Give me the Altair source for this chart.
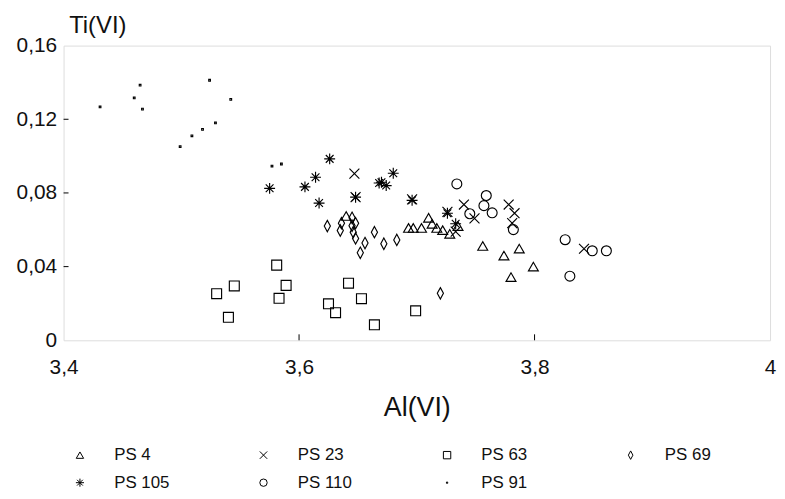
import altair as alt
import pandas as pd

# ---- data ----
series_names = ["PS 4", "PS 23", "PS 63", "PS 69", "PS 105", "PS 110", "PS 91"]
# legend is filled column by column, so this order gives the reference's row layout
legend_order = ["PS 4", "PS 105", "PS 23", "PS 110", "PS 63", "PS 91", "PS 69"]

ps4_x = [3.640, 3.693, 3.697, 3.704, 3.710, 3.713, 3.717, 3.722, 3.728, 3.735, 3.756, 3.774, 3.787, 3.799, 3.780]
ps4_y = [0.0675, 0.061, 0.061, 0.061, 0.0665, 0.0632, 0.061, 0.0598, 0.0578, 0.062, 0.0512, 0.046, 0.0498, 0.040, 0.0343]

ps23_x = [3.647, 3.648, 3.696, 3.726, 3.740, 3.749, 3.733, 3.778, 3.783, 3.781, 3.842]
ps23_y = [0.0905, 0.0777, 0.0765, 0.0697, 0.0737, 0.0662, 0.059, 0.0737, 0.0690, 0.0636, 0.0497]

ps63_x = [3.530, 3.545, 3.540, 3.581, 3.583, 3.589, 3.625, 3.631, 3.642, 3.653, 3.664, 3.699]
ps63_y = [0.0253, 0.0295, 0.0125, 0.0408, 0.0228, 0.0298, 0.0198, 0.0150, 0.0310, 0.0226, 0.0084, 0.0160]

ps69_x = [3.624, 3.636, 3.635, 3.645, 3.648, 3.645, 3.646, 3.648, 3.652, 3.656, 3.664, 3.672, 3.683, 3.720]
ps69_y = [0.0620, 0.0636, 0.0596, 0.0665, 0.0636, 0.0622, 0.0587, 0.0553, 0.0475, 0.0528, 0.0587, 0.0524, 0.0545, 0.0255]

ps105_x = [3.575, 3.605, 3.614, 3.626, 3.617, 3.648, 3.668, 3.670, 3.674, 3.680, 3.696, 3.726, 3.733]
ps105_y = [0.0825, 0.0833, 0.0885, 0.0985, 0.0745, 0.0777, 0.0854, 0.0858, 0.0840, 0.0907, 0.0760, 0.0690, 0.0633]

ps110_x = [3.734, 3.759, 3.757, 3.764, 3.745, 3.782, 3.826, 3.849, 3.861, 3.830]
ps110_y = [0.0849, 0.0786, 0.0731, 0.0692, 0.0687, 0.0601, 0.0546, 0.0486, 0.0486, 0.0348]

ps91_x = [3.431, 3.460, 3.465, 3.467, 3.499, 3.509, 3.518, 3.529, 3.524, 3.542, 3.577, 3.585]
ps91_y = [0.1267, 0.1316, 0.1385, 0.1255, 0.1051, 0.1110, 0.1145, 0.1180, 0.1412, 0.1308, 0.0946, 0.0957]

x_ticks = [3.4, 3.6, 3.8, 4.0]
y_ticks = [0, 0.04, 0.08, 0.12, 0.16]

xs = [ps4_x, ps23_x, ps63_x, ps69_x, ps105_x, ps110_x, ps91_x]
ys = [ps4_y, ps23_y, ps63_y, ps69_y, ps105_y, ps110_y, ps91_y]

rows = []
for name, sx, sy in zip(series_names, xs, ys):
    for a, b in zip(sx, sy):
        rows.append({"series": name, "al": a, "ti": b})
df = pd.DataFrame(rows)

shape_of = {
    "PS 4": "triangle-up",
    "PS 23": "M-1,-1L1,1M-1,1L1,-1",
    "PS 63": "square",
    "PS 69": "M0,-1.15L0.62,0L0,1.15L-0.62,0Z",
    "PS 105": "M0,-1.1L0,1.1M-1.1,0L1.1,0M-0.78,-0.78L0.78,0.78M-0.78,0.78L0.78,-0.78",
    "PS 110": "circle",
    "PS 91": "M-0.17,-0.17L0.17,-0.17L0.17,0.17L-0.17,0.17Z",
}

FONT = "Liberation Sans"
W, H = 712, 297

xscale = alt.Scale(domain=[3.4, 4.0], nice=False, zero=False)
yscale = alt.Scale(domain=[0, 0.16], nice=False, zero=True)

points = alt.Chart(df).mark_point(filled=False, color="black", strokeWidth=1.15, size=100, opacity=1).encode(
    x=alt.X("al:Q", scale=xscale,
            axis=alt.Axis(values=x_ticks, title="Al(VI)", grid=False, ticks=False, domain=False,
                          labelExpr="replace(format(datum.value, '.1~f'), '.', ',')",
                          labelFont=FONT, labelFontSize=21, labelColor="#111", labelPadding=16,
                          labelFlush=False, labelOverlap=False,
                          titleFont=FONT, titleFontSize=27, titleFontWeight="normal", titleColor="#111",
                          titleBaseline="alphabetic", titleY=76)),
    y=alt.Y("ti:Q", scale=yscale,
            axis=alt.Axis(values=y_ticks, title="Ti(VI)", grid=False, ticks=False, domain=False,
                          labelExpr="replace(format(datum.value, '.2~f'), '.', ',')",
                          labelFont=FONT, labelFontSize=21, labelColor="#111", labelPadding=7,
                          labelFlush=False, labelOverlap=False,
                          titleFont=FONT, titleFontSize=24, titleFontWeight="normal", titleColor="#111",
                          titleAngle=0, titleAlign="center", titleBaseline="alphabetic",
                          titleX=34, titleY=-13)),
    shape=alt.Shape("series:N", scale=alt.Scale(domain=legend_order, range=[shape_of[s] for s in legend_order]),
                    legend=alt.Legend(orient="none", legendX=8, legendY=404, columns=4, title=None,
                                      gridAlign="all", columnPadding=86, rowPadding=10,
                                      symbolSize=55, symbolStrokeWidth=1, symbolStrokeColor="black",
                                      symbolFillColor="transparent",
                                      labelFont=FONT, labelFontSize=17, labelColor="#111",
                                      labelOffset=26, padding=0)),
)

tick_df = pd.DataFrame({"v": [3.6, 3.8]})
xtick_rules = alt.Chart(tick_df).mark_rule(color="black", strokeWidth=1).encode(
    x=alt.X("v:Q", scale=xscale), y=alt.value(H), y2=alt.value(H - 6))

ytick_df = pd.DataFrame({"v": [0.04, 0.08, 0.12]})
ytick_rules = alt.Chart(ytick_df).mark_rule(color="black", strokeWidth=1).encode(
    y=alt.Y("v:Q", scale=yscale), x=alt.value(0), x2=alt.value(5))

chart = alt.layer(points, xtick_rules, ytick_rules).properties(
    width=W, height=H,
    autosize=alt.AutoSizeParams(type="none"),
    padding={"left": 56, "top": 36, "right": 7, "bottom": 150},
).configure_view(stroke="black", strokeWidth=1.3).configure(background="white")

chart.save("out.html", embed_options={"renderer": "svg", "actions": False})
